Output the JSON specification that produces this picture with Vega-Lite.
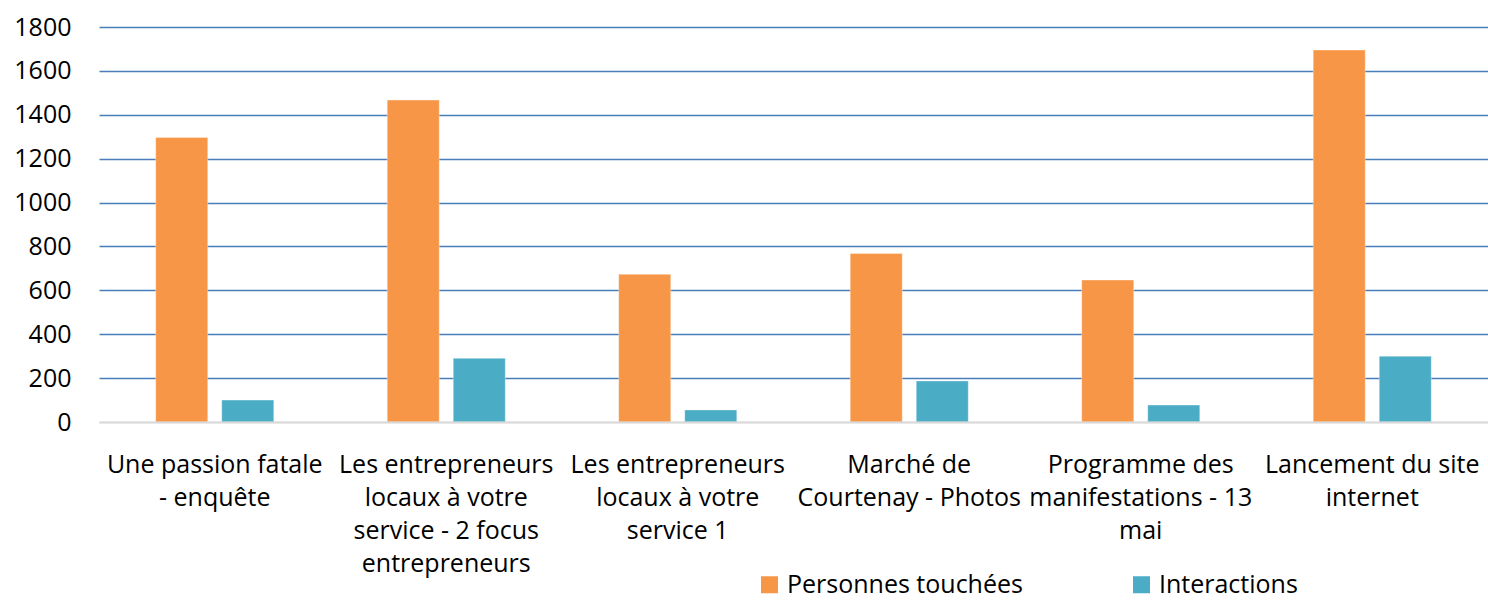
{
  "$schema": "https://vega.github.io/schema/vega-lite/v6.json",
  "autosize": "none",
  "width": 1389,
  "height": 395,
  "padding": {"left": 99, "top": 27, "right": 0, "bottom": 182},
  "background": "white",
  "config": {
    "view": {"stroke": null},
    "font": "Open Sans",
    "axis": {"labelFont": "Open Sans", "labelColor": "#000000"},
    "legend": {"labelFont": "Open Sans"}
  },
  "data": {
    "values": [
      {"cat": "Une passion fatale|- enquête", "serie": "Personnes touchées", "val": 1297},
      {"cat": "Une passion fatale|- enquête", "serie": "Interactions", "val": 100},
      {"cat": "Les entrepreneurs|locaux à votre|service - 2 focus|entrepreneurs", "serie": "Personnes touchées", "val": 1467},
      {"cat": "Les entrepreneurs|locaux à votre|service - 2 focus|entrepreneurs", "serie": "Interactions", "val": 290},
      {"cat": "Les entrepreneurs|locaux à votre|service 1", "serie": "Personnes touchées", "val": 673},
      {"cat": "Les entrepreneurs|locaux à votre|service 1", "serie": "Interactions", "val": 55},
      {"cat": "Marché de|Courtenay - Photos", "serie": "Personnes touchées", "val": 768},
      {"cat": "Marché de|Courtenay - Photos", "serie": "Interactions", "val": 187},
      {"cat": "Programme des|manifestations - 13|mai", "serie": "Personnes touchées", "val": 647},
      {"cat": "Programme des|manifestations - 13|mai", "serie": "Interactions", "val": 77},
      {"cat": "Lancement du site|internet", "serie": "Personnes touchées", "val": 1695},
      {"cat": "Lancement du site|internet", "serie": "Interactions", "val": 300}
    ]
  },
  "mark": {"type": "bar", "stroke": "#FFFFFF", "strokeOpacity": 0.35, "strokeWidth": 1},
  "encoding": {
    "x": {
      "field": "cat",
      "type": "nominal",
      "sort": null,
      "scale": {"paddingInner": 0.49, "paddingOuter": 0.245},
      "axis": {
        "title": null,
        "labelAngle": 0,
        "labelExpr": "split(datum.label, '|')",
        "labelFontSize": 25,
        "labelLineHeight": 33,
        "labelPadding": 30,
        "labelLimit": 400,
        "ticks": false,
        "domainColor": "#D9D9D9",
        "domainWidth": 2,
        "zindex": 1,
        "labelBaseline": "top"
      }
    },
    "xOffset": {
      "field": "serie",
      "type": "nominal",
      "sort": ["Personnes touchées", "Interactions"],
      "scale": {"paddingInner": 0.212, "paddingOuter": 0}
    },
    "y": {
      "field": "val",
      "type": "quantitative",
      "scale": {"domain": [0, 1800], "nice": false},
      "axis": {
        "title": null,
        "format": "d",
        "values": [0, 200, 400, 600, 800, 1000, 1200, 1400, 1600, 1800],
        "labelFontSize": 25,
        "labelPadding": 28,
        "ticks": false,
        "tickSize": 0,
        "domain": false,
        "grid": true,
        "gridColor": {"condition": {"test": "datum.value === 0", "value": "#D9D9D9"}, "value": "#4A7EBB"},
        "gridWidth": 1.5
      }
    },
    "color": {
      "field": "serie",
      "type": "nominal",
      "sort": ["Personnes touchées", "Interactions"],
      "scale": {"domain": ["Personnes touchées", "Interactions"], "range": ["#F79646", "#4BACC6"]},
      "legend": {
        "title": null,
        "orient": "none",
        "direction": "horizontal",
        "legendX": 658,
        "legendY": 545,
        "symbolType": "square",
        "symbolSize": 289,
        "symbolStrokeWidth": 0,
        "labelFontSize": 25,
        "labelColor": "#000000",
        "labelOffset": 5,
        "columnPadding": 106,
        "labelLimit": 400
      }
    }
  }
}
